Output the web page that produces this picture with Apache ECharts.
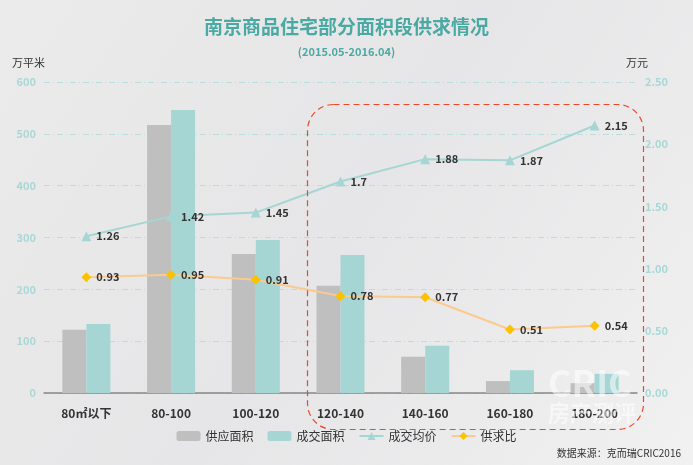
<!DOCTYPE html>
<html><head><meta charset="utf-8">
<script src="https://cdn.jsdelivr.net/npm/echarts@6/dist/echarts.min.js"></script>
<style>html,body{margin:0;padding:0;}#c{width:693px;height:465px;}</style>
</head><body><div id="c"></div>
<script>
var categories = ['80㎡以下', '80-100', '100-120', '120-140', '140-160', '160-180', '180-200'];
var supplyArea = [122, 517, 268, 207, 70, 23, 19];
var dealArea = [133, 546, 295, 266, 91, 44, 37];
var avgPrice = [1.26, 1.42, 1.45, 1.7, 1.88, 1.87, 2.15];
var ratio = [0.93, 0.95, 0.91, 0.78, 0.77, 0.51, 0.54];

var chart = echarts.init(document.getElementById('c'));
var font = '"Noto Sans CJK SC", sans-serif';
var axisLbl = { color: '#a8d8d6', fontWeight: 'bold', fontSize: 11, fontFamily: font };
var split = { show: true, lineStyle: { color: '#b9dedc', type: [6, 3, 1, 3] } };

chart.setOption({
  backgroundColor: {
    type: 'linear', x: 0, y: 0, x2: 1, y2: 1,
    colorStops: [{ offset: 0, color: '#ebebeb' }, { offset: 0.5, color: '#e6e5e7' }, { offset: 1, color: '#f1f1f1' }]
  },
  textStyle: { fontFamily: font },
  title: {
    text: '南京商品住宅部分面积段供求情况',
    subtext: '(2015.05-2016.04)',
    left: 'center', top: 12, itemGap: 10,
    textStyle: { color: '#4aa9a2', fontSize: 19, fontWeight: 'bold', fontFamily: font },
    subtextStyle: { color: '#4aa9a2', fontSize: 11, fontWeight: 'bold', fontFamily: font }
  },
  legend: {
    bottom: 18, left: 'center', itemWidth: 24, itemHeight: 10, itemGap: 14,
    textStyle: { color: '#333', fontSize: 12 },
    data: ['供应面积', '成交面积', '成交均价', '供求比']
  },
  grid: { left: 44, right: 56, top: 82, bottom: 72 },
  xAxis: {
    type: 'category', data: categories,
    axisTick: { show: false },
    axisLine: { lineStyle: { color: '#888', width: 1.5 } },
    axisLabel: { color: '#333', fontSize: 12, fontWeight: 'bold', margin: 14 }
  },
  yAxis: [{
    type: 'value', min: 0, max: 600, interval: 100,
    name: '万平米', nameLocation: 'end', nameGap: 14,
    nameTextStyle: { color: '#333', fontSize: 11, align: 'left', padding: [0, 0, 0, -32] },
    axisLine: { show: false }, axisTick: { show: false },
    axisLabel: axisLbl, splitLine: split
  }, {
    type: 'value', min: 0, max: 2.5, interval: 0.5,
    name: '万元', nameGap: 14,
    nameTextStyle: { color: '#333', fontSize: 11 },
    axisLine: { show: false }, axisTick: { show: false },
    axisLabel: Object.assign({ formatter: function (v) { return v.toFixed(2); } }, axisLbl),
    splitLine: { show: false }
  }],
  series: [{
    name: '供应面积', type: 'bar', data: supplyArea, barWidth: 24, barGap: '0%',
    itemStyle: { color: '#bfbfbf' }
  }, {
    name: '成交面积', type: 'bar', data: dealArea, barWidth: 24,
    itemStyle: { color: '#a5d6d4' }
  }, {
    name: '成交均价', type: 'line', yAxisIndex: 1, data: avgPrice,
    symbol: 'triangle', symbolSize: 10,
    lineStyle: { color: '#a5d6d4', width: 2 }, itemStyle: { color: '#a5d6d4' },
    label: { show: true, position: 'right', color: '#333', fontSize: 11, fontWeight: 'bold' }
  }, {
    name: '供求比', type: 'line', yAxisIndex: 1, data: ratio,
    symbol: 'diamond', symbolSize: 10,
    lineStyle: { color: '#fcc98f', width: 2 }, itemStyle: { color: '#fcc200' },
    label: { show: true, position: 'right', color: '#333', fontSize: 11, fontWeight: 'bold',
      formatter: function (p) { return p.value.toFixed(2); } }
  }],
  graphic: [{
    type: 'rect', left: 305, top: 102,
    shape: { width: 336, height: 325, r: 26 },
    style: { fill: 'none', stroke: '#f0462a', lineWidth: 1.2, lineDash: [6, 4] }, z: 10
  }, {
    type: 'text', left: 548, top: 365,
    style: { text: 'CRIC', fill: 'rgba(255,255,255,0.55)', font: 'bold 36px "Noto Sans CJK SC"' }, z: 11
  }, {
    type: 'text', left: 548, top: 402,
    style: { text: '房产测评', fill: 'rgba(255,255,255,0.55)', font: 'bold 22px "Noto Sans CJK SC"' }, z: 11
  }, {
    type: 'text', right: 12, bottom: 7,
    style: { text: '数据来源：克而瑞CRIC2016', fill: '#333', font: '10px "Noto Sans CJK SC"' }
  }]
});
</script></body></html>
